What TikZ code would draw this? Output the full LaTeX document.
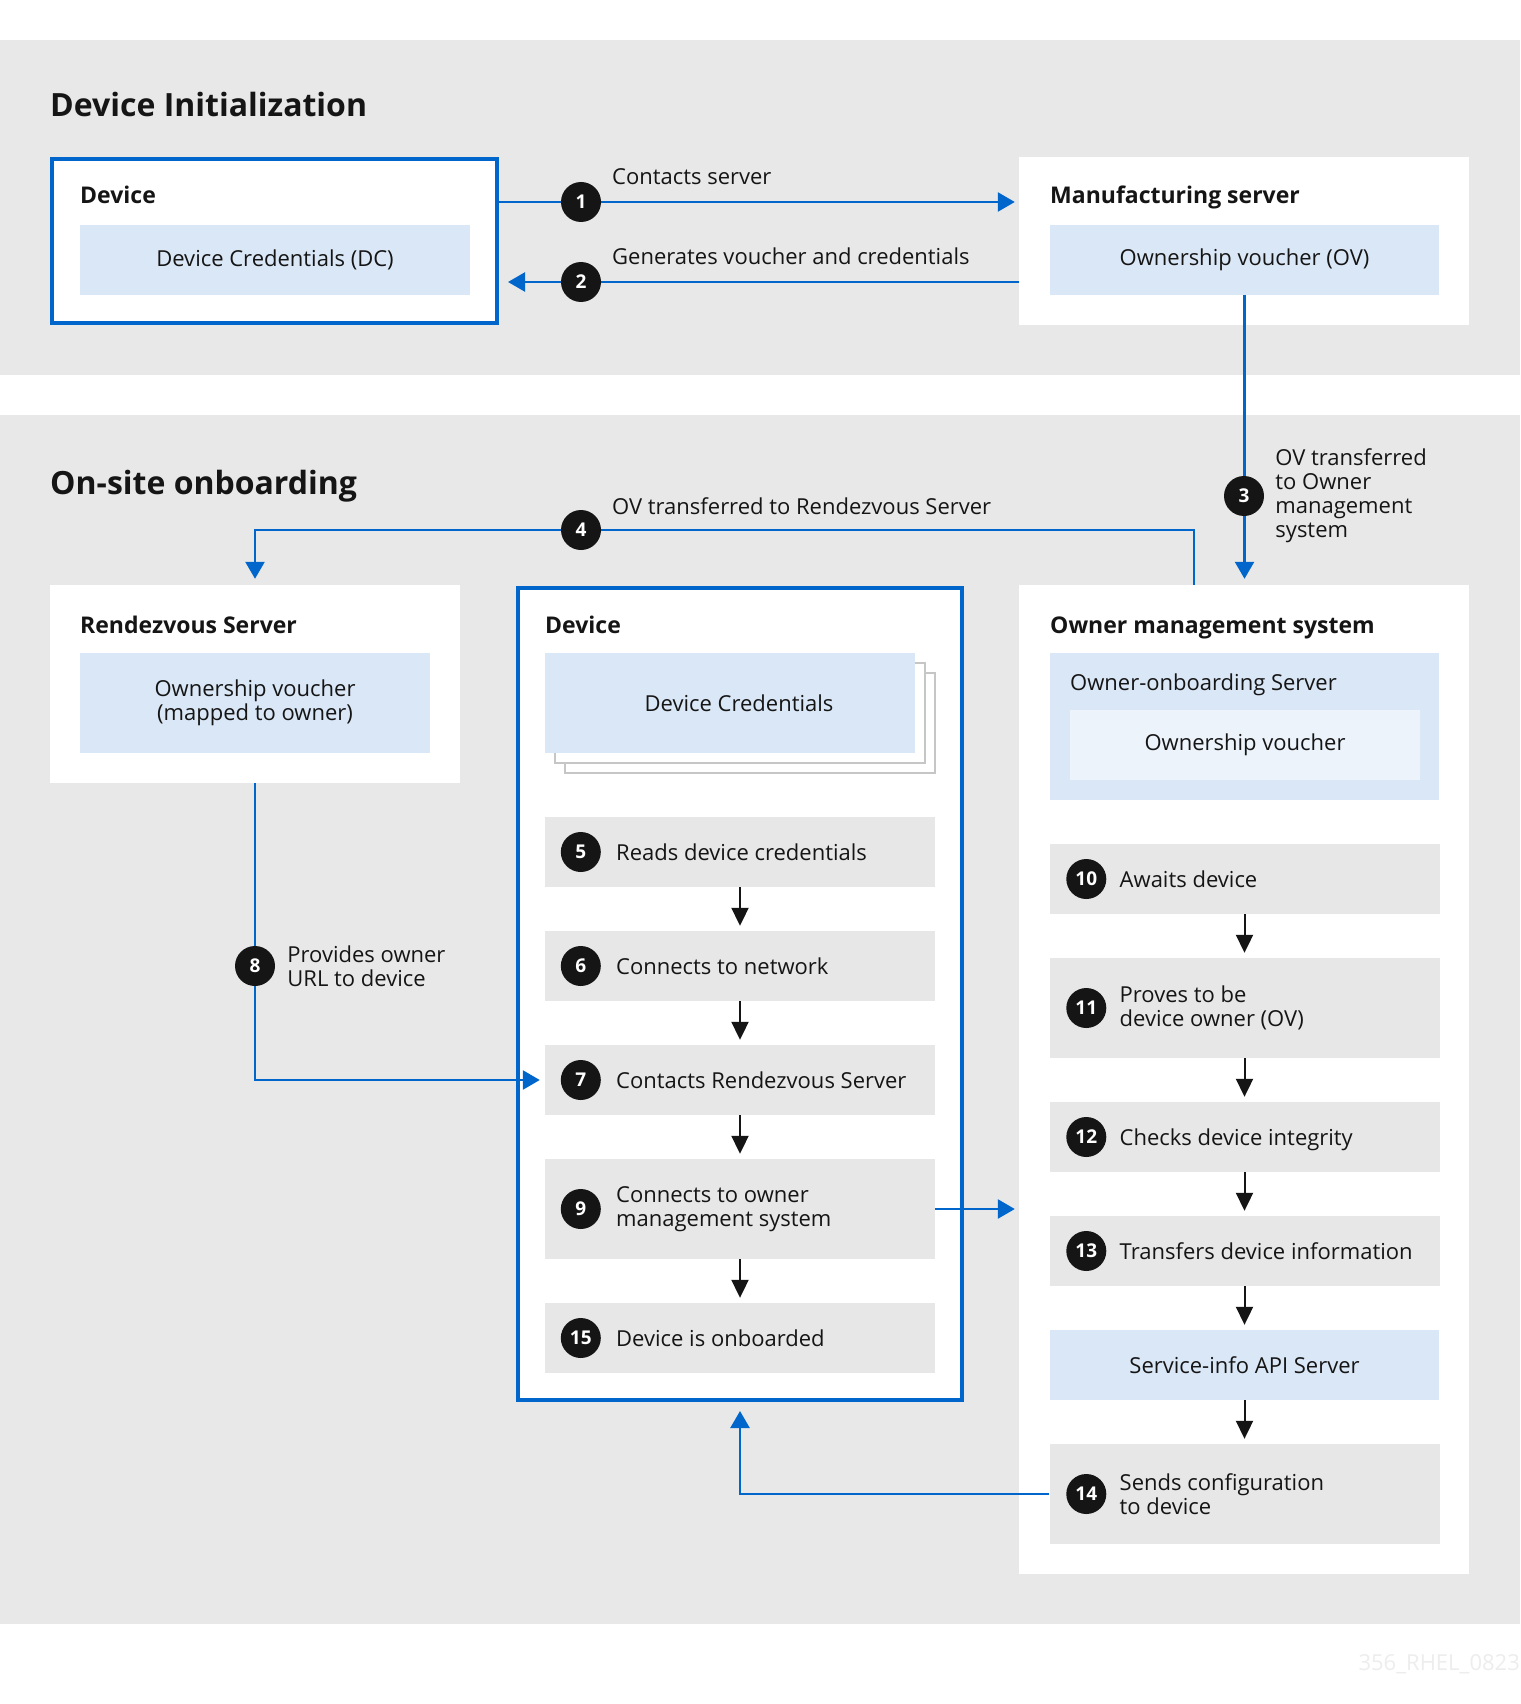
\documentclass[tikz,border=0pt]{standalone}
\usepackage{fontspec}
\setmainfont{Open Sans}
\usepackage{tikz}
\usetikzlibrary{shapes.geometric,positioning,arrows.meta}
\usepackage{xcolor}
\definecolor{bandgray}{HTML}{E8E8E8}
\definecolor{stepgray}{HTML}{E7E7E7}
\definecolor{ovblue}{HTML}{DAE7F6}
\definecolor{paleblue}{HTML}{ECF3FB}
\definecolor{rhblue}{HTML}{0066CC}
\definecolor{inkblack}{HTML}{151515}
\definecolor{sheetgray}{HTML}{C6C6C6}
\definecolor{markgray}{HTML}{EDEDED}
\newcommand{\bodyfont}{\fontsize{22}{24}\selectfont}
\newcommand{\headfont}{\fontsize{23}{26}\selectfont\bfseries}
\newcommand{\titlefont}{\fontsize{32}{36}\selectfont\bfseries}
\tikzstyle{band} = [rectangle, fill=bandgray, inner sep=0, minimum width=1520pt]
\tikzstyle{panel} = [rectangle, fill=white, inner sep=0]
\tikzstyle{devpanel} = [panel, draw=rhblue, line width=4pt]
\tikzstyle{store} = [rectangle, fill=ovblue, inner sep=0, text=inkblack, font=\bodyfont, align=center]
\tikzstyle{sheet} = [rectangle, fill=white, draw=sheetgray, line width=2pt, inner sep=0, minimum width=370pt, minimum height=100pt]
\tikzstyle{stepbox} = [rectangle, fill=stepgray, inner sep=0, minimum width=390pt, minimum height=70pt]
\tikzstyle{tallstep} = [stepbox, minimum height=100pt]
\tikzstyle{num} = [circle, fill=inkblack, text=white, inner sep=0, minimum size=40pt, font=\fontsize{19}{19}\selectfont\bfseries]
\tikzstyle{annot} = [anchor=base west, inner sep=0, text=inkblack, font=\bodyfont]
\tikzstyle{head} = [annot, font=\headfont]
\tikzstyle{title} = [annot, font=\titlefont]
\tikzstyle{oneline} = [anchor=west, inner sep=0, text=inkblack, font=\bodyfont, text height=16pt, text depth=0pt]
\tikzstyle{twoline} = [anchor=west, inner sep=0, text=inkblack, font=\bodyfont, align=left]
\tikzstyle{line} = [draw, line width=2.5pt, color=rhblue, -{Triangle[length=17pt,width=19pt]}]
\tikzstyle{flow} = [draw, line width=2pt, color=inkblack, -{Triangle[length=18pt,width=17pt]}, shorten >=5pt]

\begin{document}
\begin{tikzpicture}[x=1pt, y=-1pt]
	\fill[white] (0,0) rectangle (1520,1704);
	\useasboundingbox (0,0) rectangle (1520,1704);
	%% grey bands
	\node[band, minimum height=335pt] (B1) at (760,207.5) {};
	\node[band, minimum height=1209pt] (B2) at (760,1019.5) {};
	\node[title] (T1) at (50,117) {Device Initialization};
	\node[title] (T2) at (50,494) {On-site onboarding};
	%% device (initialization)
	\node[devpanel, minimum width=445pt, minimum height=164pt] (DI) at (274.5,241) {};
	\node[head] (DIh) at (80,204) {Device};
	\node[store, minimum width=390pt, minimum height=70pt] (DC) at (275,260) {Device Credentials (DC)};
	%% manufacturing server
	\node[panel, minimum width=450pt, minimum height=168pt] (MFG) at (1244,241) {};
	\node[head] (MFGh) at (1050,204) {Manufacturing server};
	\node[store, minimum width=389pt, minimum height=70pt] (OV) at (1244.5,260) {Ownership voucher (OV)};
	%% rendezvous server
	\node[panel, minimum width=410pt, minimum height=198pt] (RDV) at (255,684) {};
	\node[head] (RDVh) at (80,633) {Rendezvous Server};
	\node[store, minimum width=350pt, minimum height=100pt] (ROV) at (255,703) {Ownership voucher\\(mapped to owner)};
	%% device (on-site)
	\node[devpanel, minimum width=444pt, minimum height=812pt] (DEV) at (740,994) {};
	\node[head] (DEVh) at (545,633) {Device};
	\node[sheet] (SH2) at (750,723) {};
	\node[sheet] (SH1) at (740,713) {};
	\node[store, minimum width=370pt, minimum height=100pt] (DCR) at (730,703) {\hspace*{18pt}Device Credentials};
	%% owner management system
	\node[panel, minimum width=450pt, minimum height=989pt] (OMS) at (1244,1079.5) {};
	\node[head] (OMSh) at (1050,633) {Owner management system};
	\node[store, minimum width=389pt, minimum height=147pt] (OOS) at (1244.5,726.5) {};
	\node[annot] (OOSh) at (1070,690) {Owner-onboarding Server};
	\node[store, fill=paleblue, minimum width=350pt, minimum height=70pt] (OOV) at (1245,745) {Ownership voucher};
	%% device steps
	\node[stepbox] (S5) at (740,852) {};
	\node[stepbox, below of=S5, node distance=114pt] (S6) {};
	\node[stepbox, below of=S6, node distance=114pt] (S7) {};
	\node[tallstep, below of=S7, node distance=129pt] (S9) {};
	\node[stepbox, below of=S9, node distance=129pt] (S15) {};
	%% owner steps
	\node[stepbox] (S10) at (1244.5,879) {};
	\node[tallstep, below of=S10, node distance=129pt] (S11) {};
	\node[stepbox, below of=S11, node distance=129pt] (S12) {};
	\node[stepbox, below of=S12, node distance=114pt] (S13) {};
	\node[store, minimum width=389pt, minimum height=70pt, below of=S13, node distance=114pt] (API) {Service-info API Server};
	\node[tallstep, below of=API, node distance=129pt] (S14) {};
	%% step numbers and texts
	\node[num] (N5) at ([xshift=36pt]S5.west) {5};
	\node[oneline, right=15pt of N5] (T5) {Reads device credentials};
	\node[num] (N6) at ([xshift=36pt]S6.west) {6};
	\node[oneline, right=15pt of N6] (T6) {Connects to network};
	\node[num] (N7) at ([xshift=36pt]S7.west) {7};
	\node[oneline, right=15pt of N7] (T7) {Contacts Rendezvous Server};
	\node[num] (N9) at ([xshift=36pt]S9.west) {9};
	\node[twoline, right=15pt of N9] (T9) {Connects to owner\\management system};
	\node[num] (N15) at ([xshift=36pt]S15.west) {15};
	\node[oneline, right=15pt of N15] (T15) {Device is onboarded};
	\node[num] (N10) at ([xshift=37pt]S10.west) {10};
	\node[oneline, right=13pt of N10] (T10) {Awaits device};
	\node[num] (N11) at ([xshift=37pt]S11.west) {11};
	\node[twoline, right=13pt of N11] (T11) {Proves to be\\device owner (OV)};
	\node[num] (N12) at ([xshift=37pt]S12.west) {12};
	\node[oneline, right=13pt of N12] (T12) {Checks device integrity};
	\node[num] (N13) at ([xshift=37pt]S13.west) {13};
	\node[oneline, right=13pt of N13] (T13) {Transfers device information};
	\node[num] (N14) at ([xshift=37pt]S14.west) {14};
	\node[twoline, right=13pt of N14] (T14) {Sends configuration\\to device};
	%% edges
	\path[line, shorten >=4pt] ([yshift=39pt]DI.east) -- ([yshift=39pt]MFG.west);
	\path[line, shorten >=9pt] ([yshift=-41pt]MFG.west) -- ([yshift=-41pt]DI.east);
	\path[line, shorten >=6pt] (OV.south) -- (OV.south |- OMS.north);
	\path[line, shorten >=6pt] ([xshift=-50pt]OMS.north) |- (581,530) -| (RDV.north);
	\path[line, shorten >=5pt] (RDV.south) |- (S7.west);
	\path[line, shorten >=4pt] (S9.east) -- (S9.east -| OMS.west);
	\path[line, shorten >=9pt] (S14.west) -| (DEV.south);
	\path[flow] (S5) -- (S6);
	\path[flow] (S6) -- (S7);
	\path[flow] (S7) -- (S9);
	\path[flow] (S9) -- (S15);
	\path[flow] (S10) -- (S11);
	\path[flow] (S11) -- (S12);
	\path[flow] (S12) -- (S13);
	\path[flow] (S13) -- (API);
	\path[flow] (API) -- (S14);
	%% edge numbers and labels
	\node[num] (N1) at (581,202) {1};
	\node[annot] (L1) at (612,185) {Contacts server};
	\node[num] (N2) at (581,282) {2};
	\node[annot] (L2) at (612,265) {Generates voucher and credentials};
	\node[num] (N3) at (1244,496) {3};
	\node[twoline, right=11pt of N3] (L3) {OV transferred\\to Owner\\management\\system};
	\node[num] (N4) at (581,530) {4};
	\node[annot] (L4) at (612,514) {OV transferred to Rendezvous Server};
	\node[num] (N8) at (255,966) {8};
	\node[twoline, right=12pt of N8] (L8) {Provides owner\\URL to device};
	%% figure mark
	\node[annot, anchor=base east, text=markgray] (MARK) at (1520,1670) {356\_RHEL\_0823};
\end{tikzpicture}
\end{document}
